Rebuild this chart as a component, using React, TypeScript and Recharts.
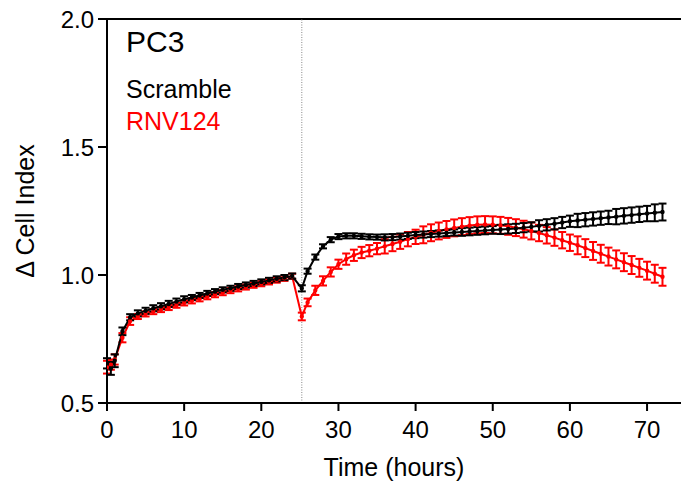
import { LineChart, Line, XAxis, YAxis, ErrorBar, ReferenceLine } from "recharts";

const hours = [
  0, 0.5, 1, 2, 3, 4, 5, 6, 7, 8, 9, 10, 11, 12, 13, 14, 15, 16, 17, 18, 19, 20, 21, 22, 23, 24,
  25.25, 26, 27, 28, 29, 30, 31, 32, 33, 34, 35, 36, 37, 38, 39, 40, 41, 42, 43, 44, 45, 46, 47, 48,
  49, 50, 51, 52, 53, 54, 55, 56, 57, 58, 59, 60, 61, 62, 63, 64, 65, 66, 67, 68, 69, 70, 71, 72,
];

const scramble = [
  0.655, 0.635, 0.665, 0.78, 0.835, 0.85, 0.86, 0.87, 0.878, 0.887, 0.896, 0.905, 0.912, 0.92, 0.928,
  0.935, 0.942, 0.948, 0.955, 0.961, 0.967, 0.973, 0.979, 0.985, 0.99, 0.996,
  0.948, 1.015, 1.07, 1.112, 1.138, 1.15, 1.153, 1.153, 1.151, 1.149, 1.148, 1.147, 1.148, 1.15, 1.153,
  1.156, 1.158, 1.16, 1.162, 1.164, 1.166, 1.168, 1.17, 1.172, 1.174, 1.176, 1.178, 1.18, 1.182, 1.185,
  1.188, 1.192, 1.196, 1.2, 1.205, 1.21, 1.213, 1.216, 1.219, 1.222, 1.225, 1.228, 1.231, 1.234, 1.237,
  1.24, 1.243, 1.246,
];

const scrambleErr = [
  0.02, 0.025, 0.025, 0.015, 0.012, 0.012, 0.012, 0.012, 0.012, 0.012, 0.012, 0.012, 0.01, 0.01, 0.01,
  0.01, 0.01, 0.01, 0.01, 0.01, 0.01, 0.01, 0.01, 0.01, 0.01, 0.01,
  0.012, 0.01, 0.01, 0.008, 0.01, 0.01, 0.01, 0.01, 0.01, 0.01, 0.01, 0.012, 0.012, 0.012, 0.012,
  0.012, 0.012, 0.012, 0.012, 0.012, 0.012, 0.015, 0.015, 0.015, 0.015, 0.015, 0.018, 0.018, 0.018, 0.018,
  0.018, 0.022, 0.022, 0.022, 0.022, 0.022, 0.026, 0.026, 0.026, 0.026, 0.026, 0.03, 0.03, 0.03, 0.03,
  0.03, 0.033, 0.033,
];

const rnv124 = [
  0.64, 0.65, 0.67, 0.755, 0.82, 0.838, 0.848, 0.857, 0.865, 0.873, 0.882, 0.891, 0.899, 0.907, 0.915,
  0.923, 0.931, 0.939, 0.946, 0.953, 0.96, 0.966, 0.973, 0.98, 0.987, 0.995,
  0.838, 0.893, 0.94, 0.977, 1.012, 1.042, 1.062, 1.077, 1.088, 1.095, 1.103, 1.112, 1.121, 1.13, 1.14,
  1.149, 1.157, 1.165, 1.172, 1.178, 1.184, 1.189, 1.193, 1.196, 1.197, 1.196, 1.194, 1.19, 1.185, 1.179,
  1.172, 1.164, 1.155, 1.146, 1.136, 1.126, 1.116, 1.105, 1.094, 1.083, 1.072, 1.061, 1.05, 1.039, 1.028,
  1.017, 1.005, 0.993,
];

const rnv124Err = [
  0.025, 0.02, 0.02, 0.018, 0.015, 0.01, 0.01, 0.01, 0.01, 0.01, 0.01, 0.01, 0.01, 0.01, 0.01,
  0.01, 0.01, 0.01, 0.01, 0.01, 0.01, 0.01, 0.01, 0.01, 0.01, 0.01,
  0.015, 0.015, 0.018, 0.018, 0.018, 0.018, 0.022, 0.022, 0.022, 0.022, 0.022, 0.028, 0.028, 0.028, 0.028,
  0.028, 0.033, 0.033, 0.033, 0.033, 0.033, 0.033, 0.033, 0.033, 0.033, 0.033, 0.033, 0.033, 0.033, 0.033,
  0.033, 0.032, 0.032, 0.032, 0.032, 0.032, 0.035, 0.035, 0.035, 0.035, 0.035, 0.035, 0.035, 0.035, 0.035,
  0.035, 0.035, 0.035,
];

const xTicks = [0, 10, 20, 30, 40, 50, 60, 70];
const yTicks = [0.5, 1.0, 1.5, 2.0];

const data = hours.map((t, i) => ({
  t,
  scr: scramble[i],
  scrErr: scrambleErr[i],
  rnv: rnv124[i],
  rnvErr: rnv124Err[i],
}));

const font = "'Liberation Sans', Arial, sans-serif";

function YTitle({ viewBox }: any) {
  const cx = 25;
  const cy = viewBox.y + viewBox.height / 2;
  return (
    <text
      x={cx}
      y={cy}
      transform={`rotate(-90 ${cx} ${cy})`}
      textAnchor="middle"
      dominantBaseline="central"
      fontSize={25}
      fill="#000"
      fontFamily={font}
    >
      Δ Cell Index
    </text>
  );
}

export default function App() {
  return (
    <div style={{ position: "absolute", left: 0, top: 0, width: 681, height: 488, background: "#fff", fontFamily: font }}>
      <LineChart
        width={681}
        height={488}
        data={data}
        margin={{ top: 19, right: 0, bottom: 5, left: 0 }}
        style={{ fontFamily: font }}
      >
        <XAxis
          dataKey="t"
          type="number"
          domain={[0, 74.4]}
          ticks={xTicks}
          allowDataOverflow
          height={80}
          tickSize={8}
          tickMargin={10}
          axisLine={{ stroke: "#000", strokeWidth: 2 }}
          tickLine={{ stroke: "#000", strokeWidth: 2 }}
          tick={{ fill: "#000", fontSize: 24 }}
          label={{ value: "Time (hours)", position: "insideBottom", offset: 7, fill: "#000", fontSize: 25 }}
        />
        <YAxis
          type="number"
          domain={[0.5, 2.0]}
          ticks={yTicks}
          allowDataOverflow
          width={107}
          tickSize={9}
          tickMargin={4}
          tickFormatter={(v: number) => v.toFixed(1)}
          axisLine={{ stroke: "#000", strokeWidth: 2 }}
          tickLine={{ stroke: "#000", strokeWidth: 2 }}
          tick={{ fill: "#000", fontSize: 24 }}
          label={<YTitle />}
        />
        <ReferenceLine y={2.0} stroke="#000" strokeWidth={2} />
        <ReferenceLine x={25.25} stroke="#888" strokeWidth={1} strokeDasharray="1 1.5" />
        <Line
          dataKey="rnv"
          stroke="#ff0000"
          strokeWidth={2}
          dot={{ r: 1.2, fill: "#ff0000", stroke: "#ff0000" }}
          isAnimationActive={false}
        >
          <ErrorBar dataKey="rnvErr" direction="y" width={4} stroke="#ff0000" strokeWidth={2} isAnimationActive={false} />
        </Line>
        <Line
          dataKey="scr"
          stroke="#000"
          strokeWidth={2}
          dot={{ r: 1.2, fill: "#000", stroke: "#000" }}
          isAnimationActive={false}
        >
          <ErrorBar dataKey="scrErr" direction="y" width={4} stroke="#000" strokeWidth={2} isAnimationActive={false} />
        </Line>
      </LineChart>
      <div style={{ position: "absolute", left: 126, top: 24, fontSize: 30, lineHeight: "36px", color: "#000" }}>PC3</div>
      <div style={{ position: "absolute", left: 126, top: 74, fontSize: 25, lineHeight: "30px", color: "#000" }}>Scramble</div>
      <div style={{ position: "absolute", left: 126, top: 106, fontSize: 25, lineHeight: "30px", color: "#ff0000" }}>RNV124</div>
    </div>
  );
}
